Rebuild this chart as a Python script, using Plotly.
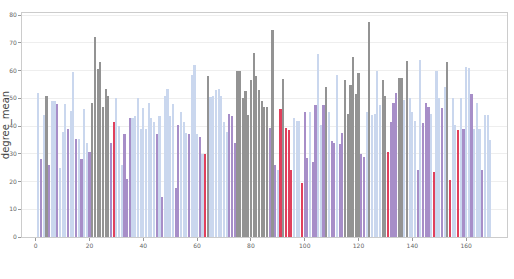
import plotly.graph_objects as go

idx = list(range(1, 170))
values = [
    52, 28, 44, 51, 26, 49, 49, 48, 25, 38,
    48, 39, 45.5, 59.5, 35.5, 35.5, 28, 46, 34, 30.5,
    48.5, 72, 60.5, 63, 47, 53.5, 51, 34, 41.5, 50,
    40, 26, 37, 21, 43, 43, 43.5, 50, 39, 46.5,
    39, 48.5, 43, 41.5, 37, 43.5, 14.5, 51, 53.5, 43.5,
    48, 17.5, 40.5, 45, 41.5, 37.5, 37, 58.5, 62, 37,
    36, 30, 30, 58, 50.5, 51, 53, 53.5, 51, 41.5,
    38, 44.5, 43.5, 34, 60, 60, 50, 52.5, 44, 56.5,
    66.5, 58, 53, 49, 47, 47, 39.5, 74.5, 26, 24,
    46, 57, 39.5, 38.5, 24, 43, 42, 42, 19.5, 45,
    28.5, 45, 27, 47.5, 66, 40.5, 47.5, 54, 45, 34.5,
    34, 58.5, 33.5, 37.5, 56.5, 44.5, 55, 65, 51.5, 59,
    30, 29, 45, 77.5, 44, 44.5, 60, 47.5, 56.5, 51,
    30.5, 41.5, 48.5, 52, 57.5, 57.5, 49.5, 63.5, 50, 45,
    42, 24, 64, 41, 48.5, 47, 44.5, 23.5, 60, 50,
    46.5, 54, 63, 20.5, 50, 40.5, 38.5, 50, 39, 61.5,
    61, 51.5, 39, 48.5, 39, 24, 44, 44, 35,
]
groups = (
    "LPLGPLLPLL" "LPLLPLPLLP" "GGGGGGGPRL" "LLPPPLLLLL"
    "LLLLPLPLLL" "LPPLLLPLLL" "PLRGLLLLLL" "LPPPGGGGGG"
    "GGGGGGPGPL" "RGRRRLLLRP" "PLPPLLPGLP" "PLPPGGGGGG"
    "PPLGLLLLGG" "RPPPGGLGLL" "LPLPPPLRLL" "PLGRLLRLPL"
    "LPLLLPLLL"
)
palette = {"L": "#cad7ee", "P": "#a78ec8", "G": "#939393", "R": "#e0405c"}
colors = [palette[g] for g in groups]

fig = go.Figure(go.Bar(
    x=idx, y=values, width=0.8,
    marker=dict(color=colors, line=dict(width=0)),
))

axis_common = dict(
    showline=True, linecolor="#cccccc", linewidth=1, mirror=True,
    ticks="outside", ticklen=3, tickcolor="#999999",
    tickfont=dict(family="DejaVu Sans", size=6, color="#666666"),
    zeroline=False, automargin=False,
)
fig.update_layout(
    width=514, height=279,
    margin=dict(l=22, r=7, t=13, b=42),
    paper_bgcolor="white", plot_bgcolor="white",
    showlegend=False, bargap=0,
    xaxis=dict(range=[-5.1, 175.2], tickvals=[0, 20, 40, 60, 80, 100, 120, 140, 160],
               showgrid=False, **axis_common),
    yaxis=dict(range=[0, 80.8], tickvals=[0, 10, 20, 30, 40, 50, 60, 70, 80],
               showgrid=True, gridcolor="#eeeeee", gridwidth=1,
               title=dict(text="degree_mean", standoff=2,
                          font=dict(family="DejaVu Sans", size=10, color="#444444")),
               **axis_common),
)
fig.write_html("out.html")
